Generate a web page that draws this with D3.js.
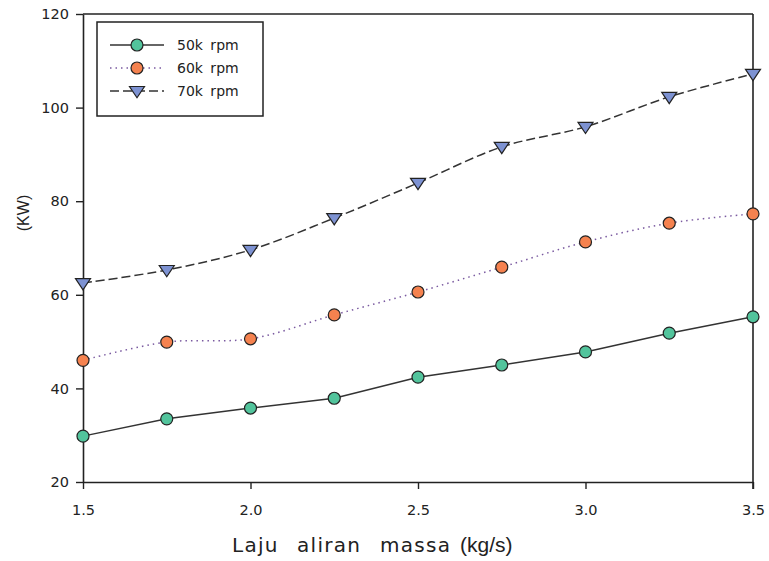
<!DOCTYPE html>
<html><head><meta charset="utf-8">
<script src="https://cdn.jsdelivr.net/npm/d3@7"></script>
<style>body{margin:0;background:#fff}svg{display:block}</style>
</head><body>
<script>
const xValues = [1.5, 1.75, 2.0, 2.25, 2.5, 2.75, 3.0, 3.25, 3.5];
const rpm50 = [29.8, 33.5, 35.8, 37.9, 42.4, 45.0, 47.8, 51.8, 55.3];
const rpm60 = [46.0, 49.9, 50.6, 55.7, 60.6, 65.9, 71.3, 75.3, 77.3];
const rpm70 = [62.5, 65.3, 69.6, 76.4, 83.9, 91.6, 95.9, 102.3, 107.2];
const seriesNames = ["50k rpm", "60k rpm", "70k rpm"];
const xTicks = [1.5, 2.0, 2.5, 3.0, 3.5];
const yTicks = [20, 40, 60, 80, 100, 120];
const xTitleWords = ["Laju", "aliran", "massa"];
const xTitleUnit = "(kg/s)";
const yTitle = "(KW)";

const W = 769, H = 561;
const L = 83, R = 753, T = 14, B = 482;
const svg = d3.select("body").append("svg").attr("width", W).attr("height", H);
const x = d3.scaleLinear().domain([1.5, 3.5]).range([L, R]);
const y = d3.scaleLinear().domain([20, 120]).range([B, T]);

const font = "'DejaVu Sans', Verdana, sans-serif";
const arial = "'Liberation Sans', Arial, sans-serif";

// axes
const xAxis = svg.append("g").attr("transform", `translate(0,${B})`)
  .call(d3.axisBottom(x).tickValues(xTicks).tickFormat(d3.format(".1f")).tickSize(7).tickSizeOuter(0));
const yAxis = svg.append("g").attr("transform", `translate(${L},0)`)
  .call(d3.axisLeft(y).tickValues(yTicks).tickSize(7).tickSizeOuter(0));
[xAxis, yAxis].forEach(g => {
  g.select(".domain").attr("stroke", "#222").attr("stroke-width", 1.6);
  g.selectAll(".tick line").attr("stroke", "#222").attr("stroke-width", 1.4);
  g.selectAll(".tick text").attr("fill", "#222").style("font-family", font).style("font-size", "14.5px");
});
xAxis.selectAll(".tick text").attr("y", 23).attr("dy", "0.71em");
yAxis.selectAll(".tick text").attr("x", -14);
// box top/right
svg.append("line").attr("x1", L).attr("x2", R).attr("y1", T).attr("y2", T).attr("stroke", "#222").attr("stroke-width", 1.6);
svg.append("line").attr("x1", R).attr("x2", R).attr("y1", T).attr("y2", B + 7).attr("stroke", "#222").attr("stroke-width", 1.6);

const series = [
  {name: seriesNames[0], vals: rpm50, fill: "#52c49c", dash: null, stroke: "#333", curve: d3.curveLinear, shape: "circle"},
  {name: seriesNames[1], vals: rpm60, fill: "#f5824f", dash: "1.5,4", stroke: "#7a5aa0", curve: d3.curveCatmullRom, shape: "circle"},
  {name: seriesNames[2], vals: rpm70, fill: "#7d92d2", dash: "9,4", stroke: "#333", curve: d3.curveCatmullRom, shape: "tri"}
];

function marker(g, shape, fill, cx, cy) {
  if (shape === "circle") {
    g.append("circle").attr("cx", cx).attr("cy", cy).attr("r", 6)
      .attr("fill", fill).attr("stroke", "#222").attr("stroke-width", 1.2);
  } else {
    const s = 7.5;
    g.append("path").attr("d", `M${cx - s},${cy - s * 0.6}L${cx + s},${cy - s * 0.6}L${cx},${cy + s * 0.9}Z`)
      .attr("fill", fill).attr("stroke", "#222").attr("stroke-width", 1.2);
  }
}

series.forEach(s => {
  const line = d3.line().x((d, i) => x(xValues[i])).y(d => y(d)).curve(s.curve);
  svg.append("path").datum(s.vals).attr("d", line).attr("fill", "none")
    .attr("stroke", s.stroke).attr("stroke-width", 1.5)
    .attr("stroke-dasharray", s.dash);
  const g = svg.append("g");
  s.vals.forEach((v, i) => marker(g, s.shape, s.fill, x(xValues[i]), y(v)));
});

// legend
const lg = svg.append("g");
lg.append("rect").attr("x", 97).attr("y", 22).attr("width", 166).attr("height", 94)
  .attr("fill", "#fff").attr("stroke", "#222").attr("stroke-width", 1.5);
series.forEach((s, i) => {
  const yy = 45 + i * 23;
  lg.append("line").attr("x1", 110).attr("x2", 164).attr("y1", yy).attr("y2", yy)
    .attr("stroke", s.stroke).attr("stroke-width", 1.5).attr("stroke-dasharray", s.dash);
  marker(lg, s.shape, s.fill, 137, yy);
  lg.append("text").attr("x", 177).attr("y", yy + 5).text(s.name)
    .attr("fill", "#222").style("font-family", font).style("font-size", "14px")
    .style("word-spacing", "3px");
});

// axis titles
const wordX = [232, 297, 380];
xTitleWords.forEach((w, i) => {
  svg.append("text").attr("x", wordX[i]).attr("y", 552).text(w)
    .attr("fill", "#222").style("font-family", font).style("font-size", "20px").style("letter-spacing", "1.3px");
});
svg.append("text").attr("x", 460).attr("y", 552).text(xTitleUnit)
  .attr("fill", "#222").style("font-family", arial).style("font-size", "21px");
svg.append("text").attr("transform", "translate(29,213) rotate(-90)").attr("text-anchor", "middle")
  .attr("fill", "#222").style("font-family", arial).style("font-size", "16px").text(yTitle);
</script>
</body></html>
